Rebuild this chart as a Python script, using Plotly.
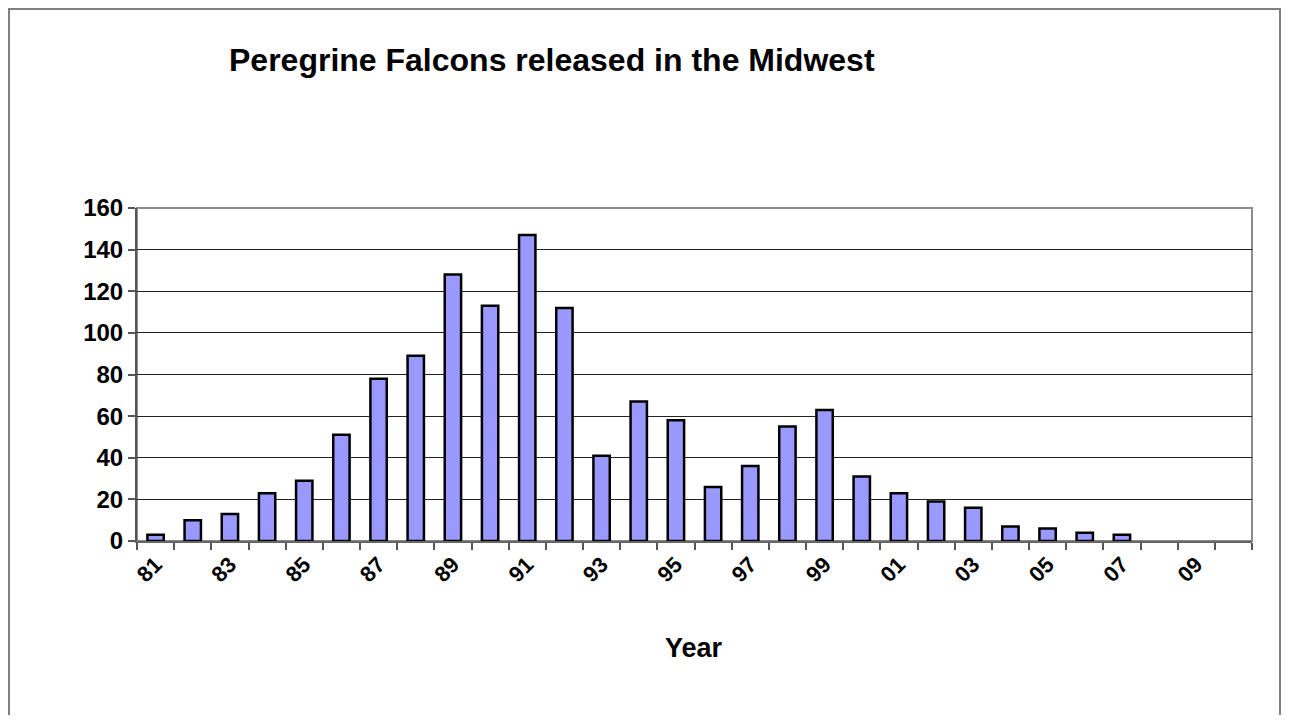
import plotly.graph_objects as go

years = ["81","82","83","84","85","86","87","88","89","90","91","92","93","94","95",
         "96","97","98","99","00","01","02","03","04","05","06","07","08","09","10"]
released = [3,10,13,23,29,51,78,89,128,113,147,112,41,67,58,
            26,36,55,63,31,23,19,16,7,6,4,3,0,0,0]
tick_labels = [y if i % 2 == 0 and y != "10" else "" for i, y in enumerate(years)]

title_text = "Peregrine Falcons released in the Midwest"
x_title = "Year"

FONT = "Liberation Sans, Arial, sans-serif"

# page body has an 8px margin: work in page pixels, convert to figure pixels
OFF = 8
W, H = 1289 - 2 * OFF, 723 - 2 * OFF
PL, PR, PT, PB = 137, 1252, 208, 541  # plot area in page pixels
L = PL - OFF
T = PT - OFF
R = W - (PR - OFF)
B = H - (PB - OFF)
pw, ph = W - L - R, H - T - B

def fx(x):  # figure pixel -> paper
    return (x - L) / pw

def fy(y):
    return (H - B - y) / ph

def px_x(x):  # page pixel -> paper
    return fx(x - OFF)

def px_y(y):
    return fy(y - OFF)

line_widths = [2.5 if v > 0 else 0 for v in released]

fig = go.Figure(go.Bar(
    x=years, y=released,
    marker=dict(color="#9999FF", line=dict(color="#000000", width=line_widths)),
    width=0.44,
))

fig.update_layout(
    width=W, height=H,
    margin=dict(l=L, r=R, t=T, b=B),
    paper_bgcolor="white", plot_bgcolor="white",
    showlegend=False,
    font=dict(family=FONT, color="#000000"),
    annotations=[
        dict(text="<b>" + title_text + "</b>", xref="paper", yref="paper",
             x=px_x(552), y=px_y(60), xanchor="center", yanchor="middle",
             showarrow=False, font=dict(size=32, family=FONT, color="#000")),
        dict(text="<b>" + x_title + "</b>", xref="paper", yref="paper",
             x=px_x(694), y=px_y(648), xanchor="center", yanchor="middle",
             showarrow=False, font=dict(size=27, family=FONT, color="#000")),
    ],
    shapes=[
        dict(type="rect", xref="paper", yref="paper", x0=0, x1=1, y0=0, y1=1,
             line=dict(color="#8c8c8c", width=2), layer="below"),
        dict(type="rect", xref="paper", yref="paper",
             x0=fx(1), x1=fx(W - 1), y0=fy(1), y1=fy(H + 40),
             line=dict(color="#808080", width=2), layer="below"),
    ],
)

fig.update_xaxes(
    type="category",
    tickmode="array", tickvals=years, ticktext=tick_labels,
    tickson="boundaries", ticks="outside", ticklen=7, tickwidth=1.5, tickcolor="#555",
    tickangle=-45,
    tickfont=dict(size=22, family=FONT, color="#000", weight="bold"),
    showline=True, linecolor="#666", linewidth=2,
    showgrid=False, zeroline=False,
    range=[-0.5, len(years) - 0.5],
)
fig.update_yaxes(
    range=[0, 160], dtick=20, tick0=0,
    ticks="outside", ticklen=7, tickwidth=1.5, tickcolor="#555",
    tickfont=dict(size=24, family=FONT, color="#000", weight="bold"),
    showline=True, linecolor="#555", linewidth=2,
    showgrid=True, gridcolor="#222", gridwidth=1,
    zeroline=False,
)

fig.write_html("out.html")
